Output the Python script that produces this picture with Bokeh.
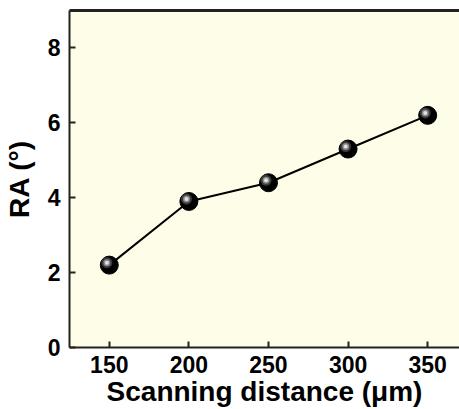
from bokeh.plotting import figure
from bokeh.models import Range1d, FixedTicker, LinearAxis, ColumnDataSource
from bokeh.embed import file_html
from bokeh.resources import INLINE

# Data
scan_distance = [150, 200, 250, 300, 350]
ra_deg = [2.2, 3.9, 4.4, 5.3, 6.2]
x_ticks = [150, 200, 250, 300, 350]
y_ticks = [0, 2, 4, 6, 8]

FONT = "Liberation Sans"

p = figure(width=459, height=409, output_backend="svg", toolbar_location=None,
           x_range=Range1d(125, 370), y_range=Range1d(0, 9),
           min_border_left=65, min_border_right=0, min_border_top=10, min_border_bottom=60)

p.background_fill_color = "#FEFDE8"
p.border_fill_color = "white"
p.outline_line_color = None
p.grid.visible = False

xax = p.below[0]
yax = p.left[0]

for ax in (xax, yax):
    ax.axis_line_width = 2
    ax.axis_line_color = "#222222"
    ax.major_tick_in = 6
    ax.major_tick_out = 0
    ax.major_tick_line_width = 2
    ax.major_tick_line_color = "#222222"
    ax.minor_tick_line_color = None
    ax.major_label_text_font = FONT
    ax.major_label_text_font_style = "bold"
    ax.major_label_text_font_size = "23px"
    ax.major_label_text_color = "black"
    ax.axis_label_text_font = FONT
    ax.axis_label_text_font_style = "bold"
    ax.axis_label_text_font_size = "28px"
    ax.axis_label_text_color = "black"

xax.ticker = FixedTicker(ticks=x_ticks)
yax.ticker = FixedTicker(ticks=y_ticks)
xax.axis_label = "Scanning distance (μm)"
yax.axis_label = "RA (°)"
xax.major_label_standoff = 8
xax.axis_label_standoff = 0
yax.major_label_standoff = 9
yax.axis_label_standoff = 10

# top border via an axis without ticks or labels
top = LinearAxis(axis_line_width=3, axis_line_color="#222222",
                 ticker=FixedTicker(ticks=[]),
                 major_tick_line_color=None, minor_tick_line_color=None,
                 major_tick_in=0, major_tick_out=0, major_label_standoff=0)
p.add_layout(top, "above")

src = ColumnDataSource(dict(x=scan_distance, y=ra_deg))
p.line("x", "y", source=src, line_color="black", line_width=2)
p.scatter("x", "y", source=src, size=18, fill_color="black", line_color="black")

# sphere highlight (offset toward upper-left, in data units)
dx = -1.5
dy = 0.065
hx = [v + dx for v in scan_distance]
hy = [v + dy for v in ra_deg]
p.scatter(hx, hy, size=11, fill_color="#3a3a3a", line_color=None)
p.scatter(hx, hy, size=7, fill_color="#8a8a8a", line_color=None)
p.scatter(hx, hy, size=4, fill_color="#e0e0e0", line_color=None)

open("out.html", "w").write(file_html(p, INLINE))
